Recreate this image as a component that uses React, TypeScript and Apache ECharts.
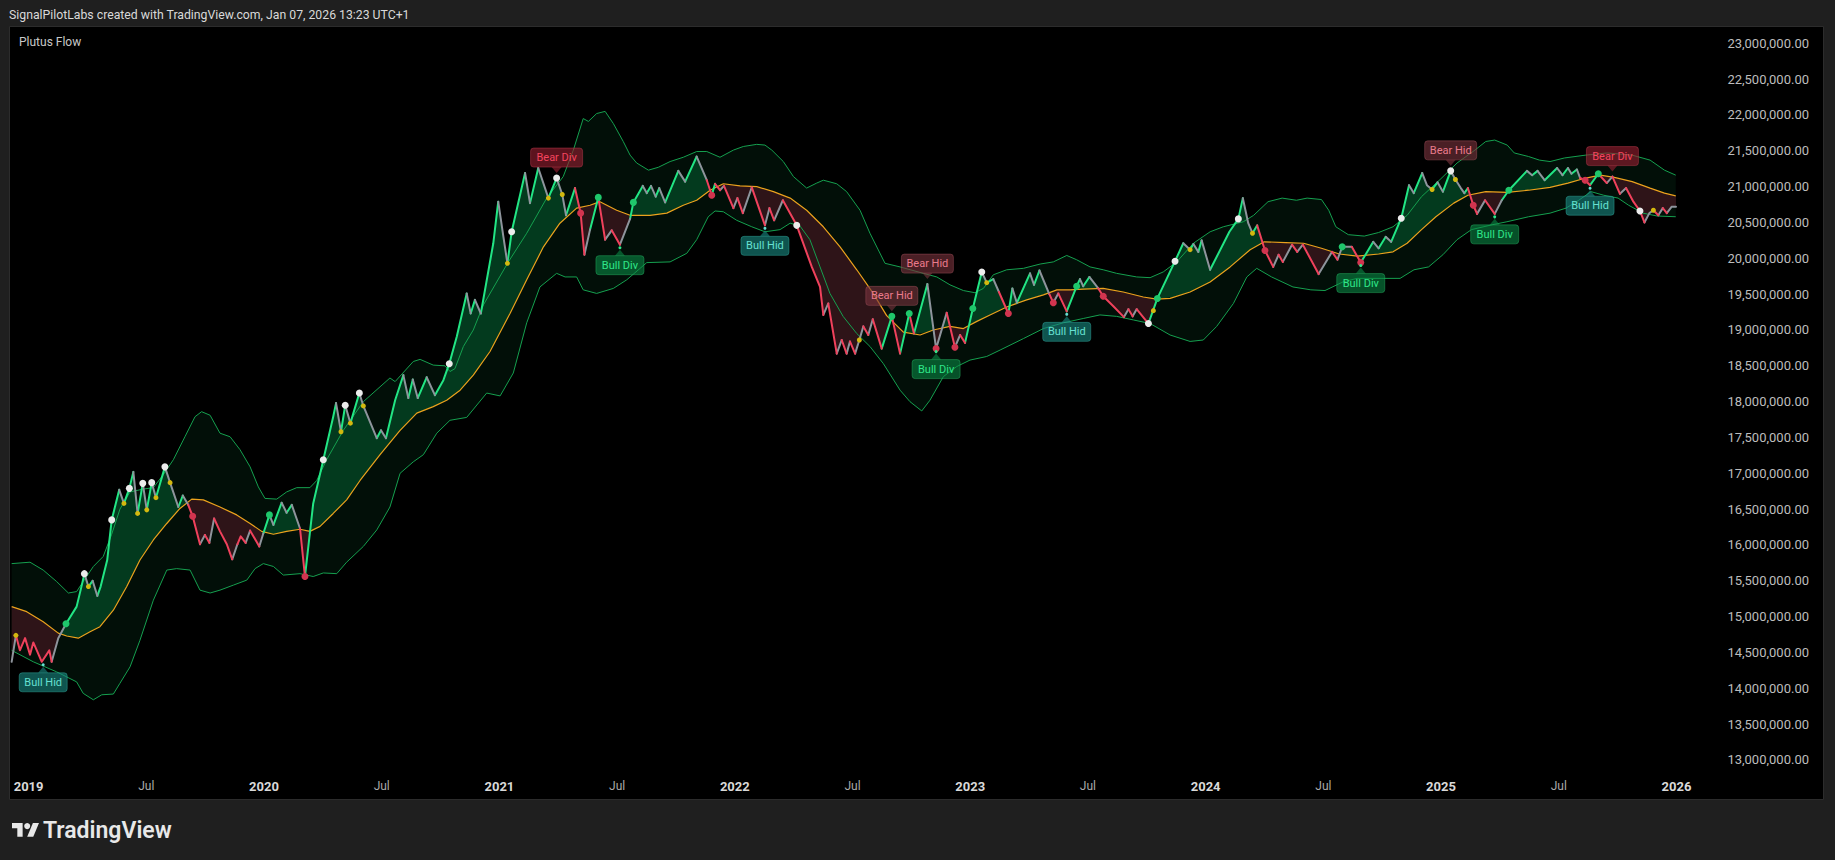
import React, { useEffect, useRef } from 'react';
import * as echarts from 'echarts';

// ---------- DATA (time as decimal year, values in millions) ----------
const M = 1e6;
const X_MIN = 2018.921;
const X_MAX = 2026.151;
const Y_MIN = 12.8465e6;
const Y_MAX = 23.2274e6;

const HEADER = 'SignalPilotLabs created with TradingView.com, Jan 07, 2026 13:23 UTC+1';
const TITLE = 'Plutus Flow';

const xTicks = [2019, 2019.5, 2020, 2020.5, 2021, 2021.5, 2022, 2022.5, 2023, 2023.5, 2024, 2024.5, 2025, 2025.5, 2026];
const yTicks = [13000000, 13500000, 14000000, 14500000, 15000000, 15500000, 16000000, 16500000, 17000000, 17500000,
  18000000, 18500000, 19000000, 19500000, 20000000, 20500000, 21000000, 21500000, 22000000, 22500000, 23000000];

// price vertices: [time, value, state of the segment that starts here: u = bull, n = neutral, d = bear]
const price: [number, number, string][] = [
  [2018.928,14.37,'n'],[2018.946,14.74,'d'],[2018.963,14.53,'d'],[2018.985,14.70,'d'],[2019.006,14.47,'d'],
  [2019.020,14.64,'d'],[2019.056,14.37,'d'],[2019.088,14.53,'d'],[2019.098,14.37,'n'],[2019.126,14.70,'n'],
  [2019.159,14.90,'u'],[2019.204,15.14,'u'],[2019.226,15.44,'u'],[2019.237,15.60,'n'],[2019.254,15.42,'u'],
  [2019.272,15.50,'n'],[2019.292,15.29,'u'],[2019.306,15.42,'u'],[2019.334,15.79,'u'],[2019.353,16.35,'u'],
  [2019.385,16.77,'n'],[2019.405,16.58,'u'],[2019.428,16.79,'u'],[2019.445,17.02,'n'],[2019.463,16.44,'u'],
  [2019.485,16.86,'n'],[2019.502,16.49,'u'],[2019.523,16.87,'n'],[2019.541,16.66,'u'],[2019.579,17.09,'n'],
  [2019.601,16.87,'n'],[2019.636,16.53,'u'],[2019.655,16.69,'n'],[2019.678,16.56,'d'],[2019.697,16.40,'d'],
  [2019.728,16.01,'n'],[2019.749,16.14,'d'],[2019.768,16.03,'n'],[2019.788,16.37,'d'],[2019.813,16.19,'d'],
  [2019.842,16.01,'d'],[2019.865,15.80,'n'],[2019.887,16.01,'d'],[2019.901,16.12,'d'],[2019.922,16.03,'n'],
  [2019.941,16.20,'d'],[2019.980,15.98,'n'],[2019.997,16.16,'u'],[2020.023,16.42,'n'],[2020.040,16.28,'u'],
  [2020.075,16.59,'n'],[2020.096,16.45,'u'],[2020.118,16.56,'n'],[2020.153,16.23,'d'],[2020.174,15.56,'u'],
  [2020.209,16.58,'u'],[2020.252,17.19,'u'],[2020.294,17.79,'u'],[2020.306,17.98,'n'],[2020.327,17.58,'u'],
  [2020.345,17.95,'n'],[2020.367,17.70,'u'],[2020.405,18.12,'n'],[2020.422,17.94,'n'],[2020.479,17.49,'u'],
  [2020.497,17.60,'n'],[2020.518,17.49,'u'],[2020.557,18.02,'u'],[2020.592,18.37,'n'],[2020.613,18.05,'u'],
  [2020.632,18.31,'n'],[2020.653,18.05,'u'],[2020.691,18.34,'n'],[2020.726,18.09,'u'],[2020.762,18.30,'u'],
  [2020.787,18.53,'u'],[2020.819,18.91,'u'],[2020.861,19.51,'n'],[2020.878,19.23,'u'],[2020.896,19.42,'n'],
  [2020.921,19.23,'u'],[2020.974,20.21,'u'],[2020.995,20.79,'n'],[2021.017,20.30,'n'],[2021.034,19.93,'u'],
  [2021.052,20.37,'u'],[2021.109,21.19,'n'],[2021.130,20.77,'u'],[2021.165,21.26,'n'],[2021.208,20.84,'u'],
  [2021.243,21.12,'n'],[2021.267,20.89,'n'],[2021.283,20.60,'u'],[2021.321,20.98,'d'],[2021.345,20.63,'d'],
  [2021.361,20.05,'n'],[2021.385,20.40,'u'],[2021.420,20.85,'d'],[2021.449,20.26,'n'],[2021.477,20.39,'d'],
  [2021.512,20.19,'n'],[2021.555,20.55,'u'],[2021.569,20.78,'u'],[2021.609,21.01,'n'],[2021.626,20.91,'u'],
  [2021.644,21.01,'n'],[2021.664,20.86,'u'],[2021.679,20.98,'n'],[2021.704,20.78,'u'],[2021.760,21.22,'n'],
  [2021.789,21.07,'u'],[2021.838,21.42,'n'],[2021.881,21.09,'d'],[2021.902,20.88,'u'],[2021.916,21.04,'d'],
  [2021.937,20.95,'n'],[2021.954,21.01,'d'],[2021.994,20.70,'n'],[2022.011,20.84,'d'],[2022.034,20.63,'n'],
  [2022.072,20.99,'d'],[2022.128,20.46,'n'],[2022.147,20.70,'d'],[2022.167,20.53,'n'],[2022.204,20.81,'d'],
  [2022.263,20.46,'d'],[2022.327,19.88,'d'],[2022.362,19.60,'d'],[2022.376,19.21,'n'],[2022.397,19.37,'d'],
  [2022.433,18.67,'n'],[2022.454,18.86,'d'],[2022.475,18.67,'n'],[2022.489,18.84,'d'],[2022.511,18.67,'n'],
  [2022.529,18.86,'n'],[2022.546,19.05,'d'],[2022.567,18.93,'n'],[2022.586,19.15,'d'],[2022.624,18.74,'u'],
  [2022.667,19.19,'d'],[2022.702,18.67,'u'],[2022.741,19.23,'d'],[2022.761,18.95,'u'],[2022.818,19.64,'n'],
  [2022.855,18.74,'n'],[2022.900,19.24,'d'],[2022.914,19.05,'d'],[2022.935,18.76,'n'],[2022.957,18.93,'d'],
  [2022.978,18.82,'u'],[2023.011,19.30,'u'],[2023.049,19.81,'n'],[2023.070,19.66,'u'],[2023.098,19.71,'n'],
  [2023.122,19.53,'d'],[2023.162,19.23,'u'],[2023.179,19.58,'n'],[2023.198,19.38,'u'],[2023.254,19.79,'n'],
  [2023.271,19.63,'u'],[2023.294,19.83,'n'],[2023.336,19.50,'d'],[2023.353,19.38,'n'],[2023.374,19.51,'d'],
  [2023.410,19.26,'u'],[2023.452,19.61,'u'],[2023.466,19.71,'n'],[2023.480,19.61,'u'],[2023.506,19.74,'n'],
  [2023.544,19.58,'d'],[2023.565,19.47,'d'],[2023.608,19.33,'d'],[2023.653,19.18,'n'],[2023.672,19.29,'d'],
  [2023.690,19.19,'n'],[2023.707,19.29,'d'],[2023.757,19.09,'u'],[2023.795,19.44,'u'],[2023.870,19.96,'u'],
  [2023.905,20.21,'n'],[2023.934,20.12,'u'],[2023.948,20.20,'n'],[2023.969,20.09,'u'],[2023.983,20.25,'n'],
  [2024.019,19.84,'u'],[2024.101,20.37,'u'],[2024.139,20.55,'u'],[2024.158,20.84,'n'],[2024.181,20.49,'n'],
  [2024.199,20.35,'u'],[2024.219,20.46,'d'],[2024.252,20.11,'d'],[2024.287,19.88,'n'],[2024.310,20.05,'d'],
  [2024.328,19.95,'n'],[2024.367,20.19,'d'],[2024.389,20.09,'n'],[2024.413,20.19,'d'],[2024.480,19.78,'n'],
  [2024.537,20.09,'d'],[2024.560,19.98,'n'],[2024.580,20.16,'n'],[2024.621,20.16,'d'],[2024.659,19.94,'u'],
  [2024.712,20.23,'n'],[2024.735,20.14,'u'],[2024.765,20.30,'n'],[2024.788,20.23,'u'],[2024.831,20.56,'u'],
  [2024.864,21.02,'n'],[2024.884,20.91,'u'],[2024.920,21.19,'n'],[2024.940,21.02,'n'],[2024.962,20.96,'u'],
  [2024.985,21.06,'n'],[2025.008,20.93,'u'],[2025.041,21.22,'n'],[2025.061,21.10,'n'],[2025.084,20.98,'n'],
  [2025.099,20.91,'u'],[2025.114,20.98,'d'],[2025.137,20.74,'d'],[2025.153,20.62,'n'],[2025.187,20.81,'d'],
  [2025.228,20.62,'n'],[2025.258,20.81,'u'],[2025.288,20.95,'u'],[2025.365,21.22,'n'],[2025.387,21.16,'u'],
  [2025.410,21.22,'n'],[2025.440,21.09,'u'],[2025.493,21.26,'n'],[2025.516,21.16,'u'],[2025.539,21.26,'n'],
  [2025.554,21.18,'u'],[2025.577,21.24,'n'],[2025.591,21.12,'d'],[2025.612,21.09,'d'],[2025.633,21.02,'u'],
  [2025.668,21.18,'d'],[2025.704,21.05,'n'],[2025.728,21.14,'d'],[2025.760,20.90,'n'],[2025.786,20.98,'d'],
  [2025.817,20.79,'d'],[2025.845,20.66,'d'],[2025.864,20.50,'n'],[2025.885,20.63,'n'],[2025.902,20.67,'d'],
  [2025.923,20.60,'n'],[2025.942,20.70,'d'],[2025.959,20.63,'n'],[2025.980,20.72,'n'],[2025.998,20.72,'n'],
];

const upper: [number, number][] = [
  [2018.928,15.74],[2019.006,15.76],[2019.062,15.65],[2019.119,15.49],[2019.169,15.33],[2019.204,15.35],[2019.232,15.49],
  [2019.275,15.70],[2019.317,15.84],[2019.353,16.15],[2019.388,16.50],[2019.431,16.74],[2019.487,16.78],[2019.530,16.80],
  [2019.572,16.98],[2019.615,17.19],[2019.664,17.51],[2019.707,17.79],[2019.735,17.86],[2019.771,17.81],[2019.813,17.56],
  [2019.856,17.51],[2019.898,17.33],[2019.941,17.09],[2019.976,16.81],[2020.004,16.65],[2020.054,16.64],[2020.096,16.74],
  [2020.139,16.80],[2020.195,16.80],[2020.224,16.90],[2020.266,17.19],[2020.337,17.60],[2020.422,18.00],[2020.535,18.33],
  [2020.557,18.28],[2020.634,18.56],[2020.663,18.59],[2020.719,18.51],[2020.769,18.50],[2020.790,18.42],[2020.811,18.46],
  [2020.847,18.77],[2020.889,19.00],[2020.932,19.35],[2021.038,19.95],[2021.116,20.35],[2021.201,20.84],[2021.271,21.14],
  [2021.314,21.51],[2021.356,21.95],[2021.378,21.91],[2021.413,22.02],[2021.449,22.05],[2021.484,21.88],[2021.526,21.63],
  [2021.555,21.44],[2021.583,21.33],[2021.633,21.23],[2021.675,21.27],[2021.725,21.35],[2021.781,21.41],[2021.838,21.49],
  [2021.881,21.49],[2021.937,21.41],[2021.994,21.51],[2022.036,21.56],[2022.093,21.59],[2022.128,21.58],[2022.157,21.51],
  [2022.206,21.35],[2022.249,21.14],[2022.305,20.98],[2022.348,21.05],[2022.376,21.09],[2022.433,21.04],[2022.475,20.93],
  [2022.532,20.67],[2022.574,20.35],[2022.638,19.93],[2022.702,19.88],[2022.801,19.79],[2022.858,19.74],[2022.914,19.63],
  [2022.971,19.55],[2023.020,19.52],[2023.056,19.58],[2023.098,19.77],[2023.155,19.84],[2023.226,19.86],[2023.297,19.92],
  [2023.353,19.95],[2023.410,20.04],[2023.452,19.98],[2023.509,19.88],[2023.565,19.84],[2023.622,19.79],[2023.707,19.74],
  [2023.764,19.73],[2023.820,19.81],[2023.877,19.95],[2023.948,20.21],[2024.019,20.37],[2024.075,20.44],[2024.160,20.51],
  [2024.204,20.60],[2024.265,20.79],[2024.325,20.84],[2024.386,20.81],[2024.431,20.84],[2024.492,20.82],[2024.523,20.67],
  [2024.553,20.44],[2024.606,20.33],[2024.674,20.31],[2024.735,20.36],[2024.796,20.44],[2024.856,20.60],[2024.917,20.86],
  [2024.996,21.10],[2025.068,21.33],[2025.144,21.51],[2025.190,21.63],[2025.228,21.65],[2025.281,21.58],[2025.311,21.47],
  [2025.372,21.42],[2025.418,21.37],[2025.463,21.35],[2025.524,21.40],[2025.615,21.44],[2025.706,21.47],[2025.811,21.44],
  [2025.888,21.37],[2025.949,21.23],[2025.997,21.16],
];

const lower: [number, number][] = [
  [2018.928,14.53],[2019.020,14.37],[2019.119,14.23],[2019.204,14.09],[2019.232,13.93],[2019.275,13.84],[2019.311,13.91],
  [2019.360,13.92],[2019.388,14.07],[2019.431,14.30],[2019.473,14.67],[2019.530,15.23],[2019.587,15.65],[2019.629,15.67],
  [2019.686,15.65],[2019.728,15.37],[2019.771,15.33],[2019.813,15.37],[2019.870,15.44],[2019.927,15.51],[2019.962,15.67],
  [2019.997,15.74],[2020.040,15.70],[2020.082,15.58],[2020.153,15.60],[2020.209,15.56],[2020.252,15.61],[2020.309,15.60],
  [2020.351,15.76],[2020.422,15.98],[2020.479,16.21],[2020.535,16.53],[2020.578,17.00],[2020.634,17.16],[2020.677,17.26],
  [2020.734,17.56],[2020.790,17.74],[2020.861,17.78],[2020.946,18.12],[2021.003,18.08],[2021.059,18.40],[2021.116,19.10],
  [2021.172,19.60],[2021.243,19.79],[2021.279,19.74],[2021.328,19.74],[2021.356,19.56],[2021.413,19.51],[2021.484,19.58],
  [2021.541,19.70],[2021.626,19.94],[2021.725,19.95],[2021.796,20.07],[2021.838,20.26],[2021.887,20.58],[2021.916,20.66],
  [2021.951,20.65],[2022.008,20.53],[2022.072,20.44],[2022.128,20.37],[2022.192,20.40],[2022.235,20.49],[2022.277,20.45],
  [2022.319,20.26],[2022.362,19.88],[2022.404,19.51],[2022.460,19.19],[2022.518,18.95],[2022.574,18.77],[2022.631,18.53],
  [2022.702,18.16],[2022.744,18.00],[2022.794,17.87],[2022.829,18.02],[2022.886,18.35],[2022.943,18.49],[2022.999,18.58],
  [2023.070,18.63],[2023.127,18.72],[2023.226,18.88],[2023.311,19.02],[2023.396,19.10],[2023.480,19.16],[2023.551,19.21],
  [2023.622,19.19],[2023.693,19.14],[2023.764,19.09],[2023.849,18.93],[2023.934,18.84],[2023.990,18.86],[2024.047,19.05],
  [2024.118,19.37],[2024.175,19.74],[2024.217,19.86],[2024.280,19.74],[2024.371,19.60],[2024.447,19.56],[2024.507,19.55],
  [2024.583,19.67],[2024.643,19.72],[2024.749,19.72],[2024.826,19.72],[2024.885,19.84],[2024.947,19.88],[2025.008,20.05],
  [2025.068,20.26],[2025.129,20.40],[2025.220,20.47],[2025.280,20.51],[2025.372,20.58],[2025.463,20.63],[2025.531,20.70],
  [2025.585,20.81],[2025.637,20.93],[2025.691,20.88],[2025.752,20.84],[2025.797,20.74],[2025.858,20.63],[2025.918,20.59],
  [2025.997,20.58],
];

const basis: [number, number][] = [
  [2018.928,15.14],[2018.992,15.07],[2019.062,14.93],[2019.126,14.77],[2019.162,14.73],[2019.211,14.70],[2019.261,14.79],
  [2019.303,14.86],[2019.360,15.09],[2019.417,15.42],[2019.473,15.79],[2019.530,16.07],[2019.587,16.30],[2019.643,16.51],
  [2019.693,16.64],[2019.742,16.63],[2019.813,16.53],[2019.884,16.42],[2019.941,16.30],[2019.990,16.19],[2020.040,16.15],
  [2020.096,16.19],[2020.153,16.22],[2020.195,16.19],[2020.238,16.26],[2020.294,16.44],[2020.351,16.63],[2020.408,16.90],
  [2020.493,17.26],[2020.578,17.60],[2020.649,17.84],[2020.719,17.93],[2020.776,18.02],[2020.833,18.16],[2020.889,18.37],
  [2020.960,18.70],[2021.045,19.23],[2021.116,19.70],[2021.187,20.16],[2021.257,20.49],[2021.328,20.70],[2021.385,20.74],
  [2021.427,20.79],[2021.498,20.67],[2021.555,20.60],[2021.640,20.60],[2021.711,20.63],[2021.781,20.74],[2021.838,20.81],
  [2021.895,20.95],[2021.951,21.04],[2022.022,21.01],[2022.093,21.00],[2022.164,20.93],[2022.235,20.84],[2022.305,20.67],
  [2022.376,20.44],[2022.447,20.16],[2022.518,19.84],[2022.588,19.51],[2022.645,19.20],[2022.716,18.97],[2022.787,18.93],
  [2022.843,19.00],[2022.914,19.05],[2022.971,19.02],[2023.028,19.12],[2023.084,19.21],[2023.155,19.32],[2023.240,19.42],
  [2023.311,19.49],[2023.368,19.56],[2023.424,19.56],[2023.480,19.57],[2023.565,19.58],[2023.650,19.53],[2023.735,19.46],
  [2023.792,19.43],[2023.849,19.44],[2023.934,19.53],[2024.019,19.67],[2024.104,19.88],[2024.189,20.12],[2024.249,20.23],
  [2024.340,20.22],[2024.416,20.21],[2024.492,20.14],[2024.568,20.06],[2024.644,20.03],[2024.735,20.06],[2024.796,20.09],
  [2024.856,20.21],[2024.917,20.40],[2024.978,20.58],[2025.054,20.77],[2025.114,20.88],[2025.190,20.93],[2025.281,20.92],
  [2025.372,20.95],[2025.463,20.99],[2025.539,21.05],[2025.615,21.12],[2025.676,21.16],[2025.736,21.13],[2025.812,21.07],
  [2025.888,20.98],[2025.949,20.91],[2025.997,20.87],
];

const whiteDots: [number, number][] = [
  [2019.237,15.60],[2019.353,16.35],[2019.428,16.79],[2019.485,16.86],[2019.523,16.87],[2019.579,17.09],[2020.252,17.19],
  [2020.345,17.95],[2020.405,18.12],[2020.787,18.53],[2021.052,20.37],[2021.243,21.12],[2022.263,20.46],[2023.049,19.81],
  [2023.757,19.09],[2023.870,19.96],[2024.139,20.55],[2024.831,20.56],[2025.041,21.22],[2025.845,20.66],
];
const yellowDots: [number, number][] = [
  [2018.946,14.74],[2019.254,15.42],[2019.405,16.58],[2019.463,16.44],[2019.502,16.49],[2019.541,16.66],[2019.601,16.87],
  [2020.327,17.58],[2020.367,17.70],[2020.422,17.94],[2021.034,19.93],[2021.208,20.84],[2021.267,20.89],[2022.529,18.86],
  [2023.070,19.66],[2023.778,19.27],[2023.934,20.12],[2024.199,20.35],[2024.962,20.96],[2025.061,21.10],[2025.902,20.67],
];
const greenDots: [number, number][] = [
  [2019.159,14.90],[2020.023,16.42],[2021.420,20.85],[2021.569,20.78],[2022.667,19.19],[2022.741,19.23],[2023.011,19.30],
  [2023.452,19.61],[2023.795,19.44],[2024.580,20.16],[2025.288,20.95],[2025.668,21.18],
];
const redDots: [number, number][] = [
  [2019.697,16.40],[2020.174,15.56],[2021.345,20.63],[2021.902,20.88],[2022.855,18.74],[2022.935,18.76],[2023.162,19.23],
  [2023.353,19.38],[2023.565,19.47],[2024.252,20.11],[2024.659,19.94],[2025.137,20.74],[2025.612,21.09],
];

const signals: [number, number, string][] = [
  [2019.062,14.37,'Bull Hid'],[2021.243,21.12,'Bear Div'],[2021.512,20.19,'Bull Div'],[2022.128,20.46,'Bull Hid'],
  [2022.667,19.19,'Bear Hid'],[2022.818,19.64,'Bear Hid'],[2022.855,18.74,'Bull Div'],[2023.410,19.26,'Bull Hid'],
  [2024.659,19.94,'Bull Div'],[2025.041,21.22,'Bear Hid'],[2025.228,20.62,'Bull Div'],[2025.633,21.02,'Bull Hid'],
  [2025.728,21.14,'Bear Div'],
];

// ---------- STYLES ----------
const FONT = 'Roboto, "Noto Sans", sans-serif';
const STATE_COLOR: Record<string, string> = { u: '#22e584', n: '#8e949c', d: '#f0415c' };
const BAND_LINE = '#15a04f';
const BASIS_LINE = '#eba21d';
const BAND_FILL = '#020f08';
const FILL_UP = '#033a1e';
const FILL_DN = '#2e1418';
const LABEL_STYLE: Record<string, { bg: string; border: string; fg: string; w: number }> = {
  'Bear Div': { bg: 'rgba(150,30,48,0.62)', border: 'rgba(190,60,80,0.45)', fg: '#f4455f', w: 52 },
  'Bear Hid': { bg: 'rgba(120,50,60,0.62)', border: 'rgba(160,80,90,0.45)', fg: '#ea7b8c', w: 52 },
  'Bull Div': { bg: 'rgba(10,140,70,0.58)', border: 'rgba(40,180,100,0.45)', fg: '#2fe68a', w: 48 },
  'Bull Hid': { bg: 'rgba(25,135,128,0.62)', border: 'rgba(50,170,160,0.45)', fg: '#66e0d2', w: 48 },
};

function basisAt(t: number): number {
  if (t <= basis[0][0]) return basis[0][1];
  for (let j = 0; j < basis.length - 1; j++) {
    const [t0, v0] = basis[j];
    const [t1, v1] = basis[j + 1];
    if (t <= t1) return v0 + ((v1 - v0) * (t - t0)) / (t1 - t0);
  }
  return basis[basis.length - 1][1];
}

function buildOption(): any {
  const toData = (arr: [number, number][]) => arr.map(([t, v]) => [t, v * M]);

  const priceSeries = ['u', 'n', 'd'].map((st) => {
    const data: any[] = [];
    let last = -1;
    for (let i = 0; i < price.length - 1; i++) {
      if (price[i][2] !== st) continue;
      if (last !== i) {
        if (data.length) data.push([price[i][0], null]);
        data.push([price[i][0], price[i][1] * M]);
      }
      data.push([price[i + 1][0], price[i + 1][1] * M]);
      last = i + 1;
    }
    return {
      type: 'line', data, symbol: 'none', z: 5, silent: true, connectNulls: false,
      lineStyle: { color: STATE_COLOR[st], width: 2, cap: 'round', join: 'round' },
    };
  });

  const dot = (arr: [number, number][], color: string, size: number) => ({
    type: 'scatter', data: toData(arr), symbol: 'circle', symbolSize: size, z: 6, silent: true,
    itemStyle: { color, opacity: 1 },
  });

  return {
    animation: false,
    backgroundColor: '#1f1f1f',
    grid: { left: 10, top: 27, width: 1702, height: 744 },
    xAxis: {
      type: 'value', min: X_MIN, max: X_MAX,
      axisLine: { show: false }, axisTick: { show: false }, splitLine: { show: false },
      axisLabel: {
        customValues: xTicks,
        margin: 9,
        formatter: (v: number) => (Math.abs(v - Math.round(v)) < 1e-6 ? `{y|${Math.round(v)}}` : '{m|Jul}'),
        rich: {
          y: { color: '#d9d9d9', fontWeight: 'bold', fontSize: 13, fontFamily: FONT },
          m: { color: '#a9a9a9', fontSize: 12, fontFamily: FONT },
        },
      },
    },
    yAxis: {
      type: 'value', position: 'right', min: Y_MIN, max: Y_MAX, scale: true,
      axisLine: { show: false }, axisTick: { show: false }, splitLine: { show: false },
      axisLabel: {
        customValues: yTicks,
        align: 'right', margin: 97,
        color: '#bdbdbd', fontSize: 13, fontFamily: FONT,
        formatter: (v: number) => v.toLocaleString('en-US', { minimumFractionDigits: 2, maximumFractionDigits: 2 }),
      },
    },
    graphic: [
      { type: 'rect', silent: true, shape: { x: 9.5, y: 26.5, width: 1814, height: 773 }, style: { fill: '#000000', stroke: '#2c2c2c', lineWidth: 1 } },
      { type: 'text', x: 9, y: 15, style: { text: HEADER, fill: '#d9d9d9', font: `12.25px ${FONT}`, verticalAlign: 'middle' } },
      { type: 'text', x: 19, y: 42, style: { text: TITLE, fill: '#c8c8c8', font: `12px ${FONT}`, verticalAlign: 'middle' } },
      {
        type: 'group', x: 12, y: 820, scaleX: 0.76, scaleY: 0.76,
        children: [
          { type: 'polygon', shape: { points: [[14, 22], [7, 22], [7, 11], [0, 11], [0, 4], [14, 4]] }, style: { fill: '#e8e8e8' } },
          { type: 'polygon', shape: { points: [[28, 22], [20, 22], [27.5, 4], [35.5, 4]] }, style: { fill: '#e8e8e8' } },
          { type: 'circle', shape: { cx: 20, cy: 8, r: 4 }, style: { fill: '#e8e8e8' } },
        ],
      },
      { type: 'text', x: 43, y: 830, style: { text: 'TradingView', fill: '#e8e8e8', font: `600 23px ${FONT}`, verticalAlign: 'middle' } },
    ],
    series: [
      {
        type: 'custom', z: 1, silent: true, data: [[upper[0][0], upper[0][1] * M]],
        renderItem: (_p: any, api: any) => {
          const pts: number[][] = [];
          upper.forEach(([t, v]) => pts.push(api.coord([t, v * M])));
          for (let i = lower.length - 1; i >= 0; i--) pts.push(api.coord([lower[i][0], lower[i][1] * M]));
          return { type: 'polygon', shape: { points: pts }, style: { fill: BAND_FILL } };
        },
      },
      {
        type: 'custom', z: 2, silent: true, data: [[price[0][0], price[0][1] * M]],
        renderItem: (_p: any, api: any) => {
          const children: any[] = [];
          let top: number[][] = [];
          let bot: number[][] = [];
          let prevSign: boolean | null = null;
          const flush = (sign: boolean | null) => {
            if (top.length > 1) {
              children.push({ type: 'polygon', shape: { points: top.concat(bot.slice().reverse()) }, style: { fill: sign ? FILL_UP : FILL_DN } });
            }
          };
          for (let i = 0; i < price.length; i++) {
            const [t, v] = price[i];
            const b = basisAt(t);
            const s = v >= b;
            if (i > 0 && s !== prevSign) {
              const [tp, vp] = price[i - 1];
              const bp = basisAt(tp);
              const d0 = vp - bp;
              const d1 = v - b;
              const f = d0 / (d0 - d1);
              const c = api.coord([tp + f * (t - tp), (vp + f * (v - vp)) * M]);
              top.push(c); bot.push(c);
              flush(prevSign);
              top = [c]; bot = [c];
            }
            top.push(api.coord([t, v * M]));
            bot.push(api.coord([t, b * M]));
            prevSign = s;
          }
          flush(prevSign);
          return { type: 'group', children };
        },
      },
      { type: 'line', data: toData(upper), symbol: 'none', z: 3, silent: true, lineStyle: { color: BAND_LINE, width: 1 } },
      { type: 'line', data: toData(lower), symbol: 'none', z: 3, silent: true, lineStyle: { color: BAND_LINE, width: 1 } },
      { type: 'line', data: toData(basis), symbol: 'none', z: 4, silent: true, lineStyle: { color: BASIS_LINE, width: 1.2 } },
      ...priceSeries,
      dot(yellowDots, '#d3b80f', 5),
      dot(whiteDots, '#ececec', 7),
      dot(greenDots, '#1fc76b', 7),
      dot(redDots, '#d1344f', 7),
      {
        type: 'custom', z: 8, silent: true,
        data: signals.map(([t, v]) => [t, v * M]),
        renderItem: (params: any, api: any) => {
          const s = signals[params.dataIndex];
          const st = LABEL_STYLE[s[2]];
          const [px, py] = api.coord([s[0], s[1] * M]);
          const bull = s[2].startsWith('Bull');
          const h = 19;
          const gap = 11;
          const boxY = bull ? py + gap : py - gap - h;
          const tipY = bull ? py + 5 : py - 5;
          const baseY = bull ? boxY : boxY + h;
          const kids: any[] = [
            { type: 'polygon', shape: { points: [[px - 5, baseY], [px + 5, baseY], [px, tipY]] }, style: { fill: st.bg } },
            { type: 'rect', shape: { x: px - st.w / 2, y: boxY, width: st.w, height: h, r: 3 }, style: { fill: st.bg, stroke: st.border, lineWidth: 1 } },
            { type: 'text', x: px, y: boxY + h / 2, style: { text: s[2], fill: st.fg, font: `11px ${FONT}`, align: 'center', verticalAlign: 'middle' } },
          ];
          if (bull) kids.push({ type: 'circle', shape: { cx: px, cy: py + 3, r: 1.5 }, style: { fill: st.fg } });
          return { type: 'group', children: kids };
        },
      },
    ],
  };
}

export default function App() {
  const ref = useRef<HTMLDivElement>(null);
  useEffect(() => {
    if (!ref.current) return;
    const chart = echarts.init(ref.current, null, { renderer: 'svg' });
    chart.setOption(buildOption());
    return () => chart.dispose();
  }, []);
  return <div ref={ref} style={{ position: 'fixed', left: 0, top: 0, width: 1835, height: 860 }} />;
}
